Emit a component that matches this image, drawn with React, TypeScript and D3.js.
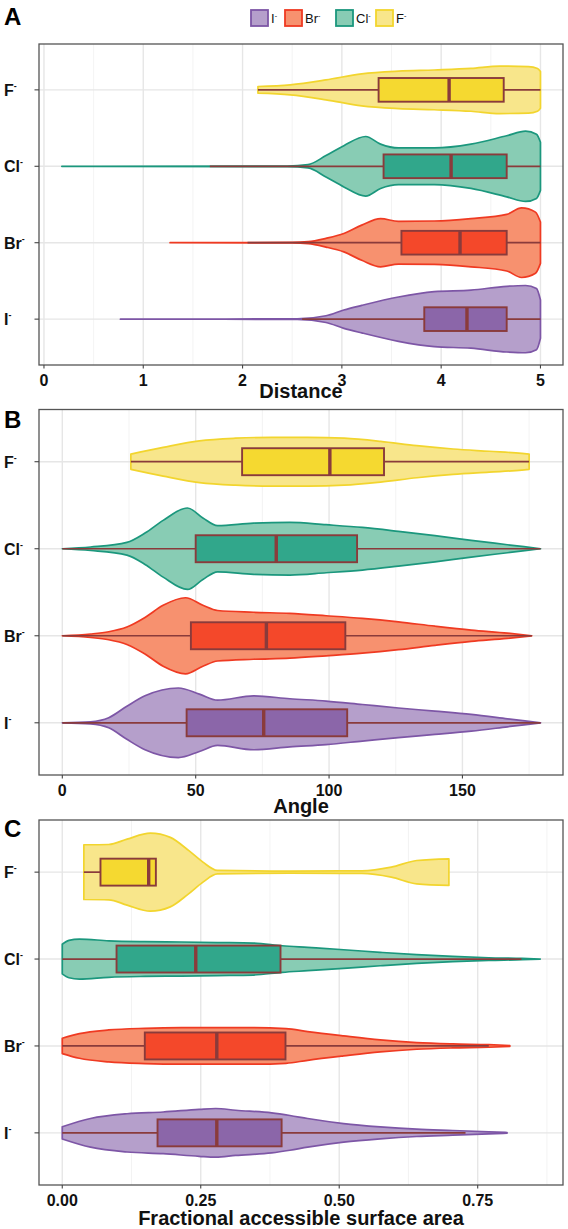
import React from "react";
import * as d3 from "d3";

type Pt = [number, number];

// Categories (top to bottom) and legend order
const IONS = ["F", "Cl", "Br", "I"];
const LEGEND_IONS = ["I", "Br", "Cl", "F"];

// Panel A: Distance — violin profiles [value, half-width as fraction of category step]
const DIST_F: Pt[] = [[2.155, 0.044], [2.48, 0.066], [2.84, 0.13], [3.2, 0.21], [3.57, 0.245], [3.93, 0.26], [4.3, 0.28], [4.59, 0.31], [4.88, 0.305], [4.97, 0.28], [5.0, 0.24]];
const DIST_CL: Pt[] = [[0.18, 0], [2.45, 0.004], [2.66, 0.022], [2.84, 0.14], [3.02, 0.27], [3.24, 0.39], [3.39, 0.29], [3.57, 0.24], [3.93, 0.24], [4.3, 0.29], [4.66, 0.4], [4.85, 0.46], [4.96, 0.42], [5.0, 0.315]];
const DIST_BR: Pt[] = [[1.27, 0], [2.5, 0.004], [2.66, 0.013], [2.84, 0.057], [3.02, 0.12], [3.2, 0.23], [3.39, 0.315], [3.57, 0.28], [3.93, 0.284], [4.3, 0.315], [4.66, 0.37], [4.81, 0.455], [4.95, 0.4], [5.0, 0.27]];
const DIST_I: Pt[] = [[0.77, 0], [2.55, 0.004], [2.84, 0.044], [3.02, 0.12], [3.2, 0.18], [3.57, 0.29], [3.93, 0.36], [4.3, 0.38], [4.66, 0.43], [4.85, 0.44], [4.96, 0.4], [5.0, 0.25]];
// box stats [lower whisker, q1, median, q3, upper whisker] in IONS order (F, Cl, Br, I)
const DIST_BOX = [
  [2.155, 3.37, 4.08, 4.63, 5.0],
  [1.67, 3.42, 4.1, 4.66, 5.0],
  [2.05, 3.6, 4.19, 4.66, 5.0],
  [2.6, 3.83, 4.26, 4.66, 5.0],
];
const DIST_TICKS = [0, 1, 2, 3, 4, 5];
const DIST_MINOR = [0.5, 1.5, 2.5, 3.5, 4.5];

// Panel B: Angle
const ANG_F: Pt[] = [[25.7, 0.088], [37.8, 0.165], [51.4, 0.24], [64.9, 0.27], [78.5, 0.28], [92, 0.28], [105.7, 0.27], [119.3, 0.234], [132.9, 0.184], [146.5, 0.146], [160, 0.12], [172.3, 0.096], [175, 0.088]];
const ANG_CL: Pt[] = [[0, 0], [10.6, 0.02], [24.2, 0.073], [31, 0.18], [37.8, 0.326], [46.9, 0.468], [52.7, 0.353], [58.2, 0.265], [71.7, 0.295], [85.3, 0.303], [98.9, 0.276], [112.5, 0.245], [126, 0.2], [139.7, 0.15], [153.3, 0.096], [166.9, 0.046], [179.3, 0]];
const ANG_BR: Pt[] = [[0, 0], [10.6, 0.02], [17.4, 0.046], [24.2, 0.1], [31, 0.21], [37.8, 0.35], [46.2, 0.437], [52.7, 0.35], [58.2, 0.29], [71.7, 0.27], [85.3, 0.257], [98.9, 0.23], [112.5, 0.2], [126, 0.16], [139.7, 0.11], [153.3, 0.065], [166.9, 0.03], [176, 0]];
const ANG_I: Pt[] = [[0, 0], [10.6, 0.012], [17.4, 0.058], [24.2, 0.19], [31, 0.31], [43.5, 0.4], [51.4, 0.33], [58.2, 0.26], [71.7, 0.31], [85.3, 0.276], [98.9, 0.25], [112.5, 0.21], [126, 0.17], [139.7, 0.134], [153.3, 0.096], [166.9, 0.046], [179.3, 0]];
const ANG_BOX = [
  [25.7, 67.4, 100.3, 120.6, 175],
  [0, 50, 80.2, 110.5, 179.3],
  [0, 48.2, 76.5, 106.1, 176],
  [0, 46.6, 75.5, 106.8, 179.3],
];
const ANG_TICKS = [0, 50, 100, 150];
const ANG_MINOR = [25, 75, 125, 175];

// Panel C: Fractional accessible surface area
const FASA_F: Pt[] = [[0.039, 0.315], [0.084, 0.318], [0.117, 0.38], [0.159, 0.449], [0.195, 0.4], [0.228, 0.25], [0.254, 0.115], [0.28, 0.02], [0.41, 0.012], [0.541, 0.015], [0.594, 0.058], [0.64, 0.134], [0.698, 0.153]];
const FASA_CL: Pt[] = [[0, 0.17], [0.012, 0.215], [0.031, 0.23], [0.084, 0.21], [0.149, 0.2], [0.215, 0.196], [0.28, 0.19], [0.345, 0.184], [0.397, 0.153], [0.443, 0.134], [0.508, 0.107], [0.574, 0.077], [0.64, 0.05], [0.705, 0.03], [0.77, 0.015], [0.83, 0.008], [0.863, 0]];
const FASA_BR: Pt[] = [[0, 0.088], [0.031, 0.142], [0.084, 0.184], [0.149, 0.203], [0.215, 0.21], [0.28, 0.21], [0.345, 0.21], [0.404, 0.2], [0.443, 0.165], [0.508, 0.115], [0.574, 0.069], [0.64, 0.038], [0.705, 0.023], [0.77, 0.015], [0.808, 0.005]];
const FASA_I: Pt[] = [[0, 0.07], [0.051, 0.165], [0.117, 0.22], [0.182, 0.24], [0.247, 0.27], [0.277, 0.28], [0.313, 0.26], [0.378, 0.23], [0.411, 0.2], [0.443, 0.165], [0.508, 0.107], [0.574, 0.069], [0.64, 0.042], [0.705, 0.027], [0.77, 0.012], [0.803, 0.004]];
const FASA_BOX = [
  [0.039, 0.069, 0.156, 0.169, 0.169],
  [0, 0.098, 0.241, 0.394, 0.829],
  [0, 0.149, 0.279, 0.403, 0.77],
  [0, 0.172, 0.279, 0.396, 0.728],
];
const FASA_TICKS = [0, 0.25, 0.5, 0.75];
const FASA_MINOR = [0.125, 0.375, 0.625, 0.875];

const COLORS: Record<string, { violin: string; line: string; box: string }> = {
  I: { violin: "#b59fcb", line: "#7d56a6", box: "#8b66a9" },
  Br: { violin: "#f7916f", line: "#ef3a22", box: "#f4482a" },
  Cl: { violin: "#88ccb4", line: "#1b977d", box: "#31a78b" },
  F: { violin: "#f8e68b", line: "#f2d52e", box: "#f5d930" },
};
const BROWN = "#8a3b3b";
const FONT = "'Liberation Sans', Arial, Helvetica, sans-serif";

const LEFT = 39;
const RIGHT = 563;

function IonLabel({ ion, x, y, size, weight, anchor }: any) {
  return (
    <text x={x} y={y} fontSize={size} fontWeight={weight} fontFamily={FONT} textAnchor={anchor || "start"} fill="#111">
      <tspan>{ion}</tspan>
      <tspan dy={-size * 0.42} fontSize={size * 0.55}>-</tspan>
    </text>
  );
}

function Panel(props: {
  letter: string;
  letterY: number;
  top: number;
  bottom: number;
  domain: [number, number];
  ticks: number[];
  minor: number[];
  fmt: (v: number) => string;
  title: string;
  titleY: number;
  violins: Pt[][];
  boxes: number[][];
}) {
  const { letter, letterY, top, bottom, domain, ticks, minor, fmt, title, titleY, violins, boxes } = props;
  const x = d3.scaleLinear().domain(domain).range([LEFT, RIGHT]);
  const y = d3.scalePoint<string>().domain(IONS).range([top, bottom]).padding(0.6);
  const step = y.step();
  const boxHalf = 0.155 * step;

  return (
    <g>
      <rect x={LEFT} y={top} width={RIGHT - LEFT} height={bottom - top} fill="#fff" />
      {minor.map((t) => (
        <line key={"mi" + t} x1={x(t)} x2={x(t)} y1={top} y2={bottom} stroke="#f0f0f0" strokeWidth={0.8} />
      ))}
      {ticks.map((t) => (
        <line key={"ma" + t} x1={x(t)} x2={x(t)} y1={top} y2={bottom} stroke="#e6e6e6" strokeWidth={1.4} />
      ))}
      {IONS.map((ion) => (
        <line key={"h" + ion} x1={LEFT} x2={RIGHT} y1={y(ion)} y2={y(ion)} stroke="#e6e6e6" strokeWidth={1.4} />
      ))}
      {IONS.map((ion, i) => {
        const cy = y(ion) as number;
        const c = COLORS[ion];
        const area = d3
          .area<Pt>()
          .x((d) => x(d[0]))
          .y0((d) => cy - d[1] * step)
          .y1((d) => cy + d[1] * step)
          .curve(d3.curveMonotoneX);
        const [lo, q1, med, q3, hi] = boxes[i];
        return (
          <g key={ion}>
            <path d={area(violins[i]) || ""} fill={c.violin} stroke={c.line} strokeWidth={1.7} strokeLinejoin="round" />
            <line x1={x(lo)} x2={x(q1)} y1={cy} y2={cy} stroke={BROWN} strokeWidth={1.7} />
            <line x1={x(q3)} x2={x(hi)} y1={cy} y2={cy} stroke={BROWN} strokeWidth={1.7} />
            <rect x={x(q1)} y={cy - boxHalf} width={x(q3) - x(q1)} height={boxHalf * 2} fill={c.box} stroke={BROWN} strokeWidth={1.9} />
            <line x1={x(med)} x2={x(med)} y1={cy - boxHalf} y2={cy + boxHalf} stroke={BROWN} strokeWidth={3.4} />
          </g>
        );
      })}
      <rect x={LEFT} y={top} width={RIGHT - LEFT} height={bottom - top} fill="none" stroke="#555" strokeWidth={1.3} />
      {ticks.map((t) => (
        <g key={"t" + t}>
          <line x1={x(t)} x2={x(t)} y1={bottom} y2={bottom + 3.5} stroke="#444" strokeWidth={1.1} />
          <text x={x(t)} y={bottom + 21} textAnchor="middle" fontSize={16} fontWeight="bold" fontFamily={FONT} fill="#111">
            {fmt(t)}
          </text>
        </g>
      ))}
      {IONS.map((ion) => (
        <g key={"yl" + ion}>
          <line x1={LEFT - 4.5} x2={LEFT} y1={y(ion)} y2={y(ion)} stroke="#444" strokeWidth={1.1} />
          <IonLabel ion={ion} x={4} y={(y(ion) as number) + 5.8} size={16} weight="bold" />
        </g>
      ))}
      <text x={(LEFT + RIGHT) / 2} y={titleY} textAnchor="middle" fontSize={20} fontWeight="bold" fontFamily={FONT} fill="#111">
        {title}
      </text>
      <text x={4} y={letterY} fontSize={24} fontWeight="bold" fontFamily={FONT} fill="#000">
        {letter}
      </text>
    </g>
  );
}

export default function App() {
  const legendX = [251, 285, 336, 376];
  return (
    <svg width={568} height={1229} style={{ position: "absolute", left: 0, top: 0, background: "#fff" }}>
      <rect x={0} y={0} width={568} height={1229} fill="#fff" />
      {LEGEND_IONS.map((ion, i) => {
        const c = COLORS[ion];
        return (
          <g key={"lg" + ion}>
            <rect x={legendX[i]} y={10} width={17} height={16} fill={c.violin} stroke={c.line} strokeWidth={1.8} />
            <IonLabel ion={ion} x={legendX[i] + 20} y={23} size={13} weight="normal" />
          </g>
        );
      })}
      <Panel
        letter="A"
        letterY={25}
        top={44}
        bottom={365}
        domain={[-0.05, 5.227]}
        ticks={DIST_TICKS}
        minor={DIST_MINOR}
        fmt={d3.format("d")}
        title="Distance"
        titleY={398}
        violins={[DIST_F, DIST_CL, DIST_BR, DIST_I]}
        boxes={DIST_BOX}
      />
      <Panel
        letter="B"
        letterY={428}
        top={409.5}
        bottom={775}
        domain={[-8.74, 187.7]}
        ticks={ANG_TICKS}
        minor={ANG_MINOR}
        fmt={d3.format("d")}
        title="Angle"
        titleY={813}
        violins={[ANG_F, ANG_CL, ANG_BR, ANG_I]}
        boxes={ANG_BOX}
      />
      <Panel
        letter="C"
        letterY={837}
        top={820}
        bottom={1185}
        domain={[-0.042, 0.904]}
        ticks={FASA_TICKS}
        minor={FASA_MINOR}
        fmt={d3.format(".2f")}
        title="Fractional accessible surface area"
        titleY={1225}
        violins={[FASA_F, FASA_CL, FASA_BR, FASA_I]}
        boxes={FASA_BOX}
      />
    </svg>
  );
}
